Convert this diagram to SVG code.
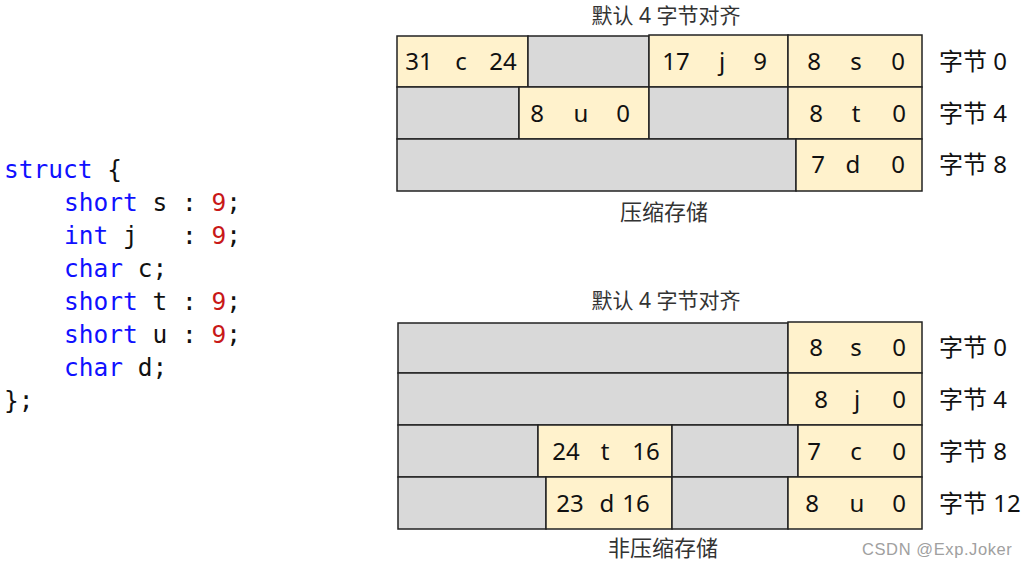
<svg xmlns="http://www.w3.org/2000/svg" width="1026" height="566" viewBox="0 0 1026 566">
<style>
.bg{fill:#ffffff}
.y{fill:#fff2cc;stroke:#222;stroke-width:1.5}
.g{fill:#d9d9d9;stroke:#222;stroke-width:1.5}
.v{font-family:"Noto Sans","Open Sans","DejaVu Sans",sans-serif;font-size:24px;fill:#111;text-anchor:middle}
.lbl{font-family:"Noto Sans","Noto Sans CJK SC",sans-serif;font-size:24px;fill:#111}
.ttl{font-family:"Noto Sans","Noto Sans CJK SC",sans-serif;font-size:21px;fill:#333;text-anchor:middle}
.code{font-family:"DejaVu Sans Mono","Liberation Mono",monospace;font-size:24.5px;fill:#111}
.kw{fill:#1010ff}
.num{fill:#c81818}
.wm{font-family:"Liberation Sans","DejaVu Sans",sans-serif;font-size:16.5px;fill:#a0a0a0;letter-spacing:0.6px}
</style>
<rect class="bg" x="0" y="0" width="1026" height="566"/>

<g id="code">
<text class="code" x="4" y="178" xml:space="preserve"><tspan class="kw">struct</tspan> {</text>
<text class="code" x="64" y="211" xml:space="preserve"><tspan class="kw">short</tspan> s : <tspan class="num">9</tspan>;</text>
<text class="code" x="64" y="244" xml:space="preserve"><tspan class="kw">int</tspan> j   : <tspan class="num">9</tspan>;</text>
<text class="code" x="64" y="277" xml:space="preserve"><tspan class="kw">char</tspan> c;</text>
<text class="code" x="64" y="310" xml:space="preserve"><tspan class="kw">short</tspan> t : <tspan class="num">9</tspan>;</text>
<text class="code" x="64" y="343" xml:space="preserve"><tspan class="kw">short</tspan> u : <tspan class="num">9</tspan>;</text>
<text class="code" x="64" y="376" xml:space="preserve"><tspan class="kw">char</tspan> d;</text>
<text class="code" x="4" y="409" xml:space="preserve">};</text>
</g>

<g id="packed">
<text class="ttl" x="666" y="23">默认 4 字节对齐</text>
<g id="p-row0">
<rect class="y" x="397" y="36" width="131" height="51"/>
<rect class="g" x="528" y="36" width="121" height="51"/>
<rect class="y" x="649" y="35" width="139" height="52"/>
<rect class="y" x="788" y="35" width="134" height="52"/>
<text class="v" x="419" y="70">31</text><text class="v" x="461" y="70">c</text><text class="v" x="503" y="70">24</text>
<text class="v" x="676" y="70">17</text><text class="v" x="722" y="70">j</text><text class="v" x="760" y="70">9</text>
<text class="v" x="814" y="70">8</text><text class="v" x="856" y="70">s</text><text class="v" x="898" y="70">0</text>
<text class="lbl" x="939" y="70">字节 0</text>
</g>
<g id="p-row1">
<rect class="g" x="397" y="87" width="122" height="52"/>
<rect class="y" x="519" y="87" width="130" height="52"/>
<rect class="g" x="649" y="87" width="139" height="52"/>
<rect class="y" x="788" y="87" width="134" height="52"/>
<text class="v" x="537" y="122">8</text><text class="v" x="581" y="122">u</text><text class="v" x="623" y="122">0</text>
<text class="v" x="816" y="122">8</text><text class="v" x="856" y="122">t</text><text class="v" x="899" y="122">0</text>
<text class="lbl" x="939" y="122">字节 4</text>
</g>
<g id="p-row2">
<rect class="g" x="397" y="139" width="399" height="52"/>
<rect class="y" x="796" y="139" width="126" height="52"/>
<text class="v" x="818" y="173">7</text><text class="v" x="853" y="173">d</text><text class="v" x="898" y="173">0</text>
<text class="lbl" x="939" y="173">字节 8</text>
</g>
<text class="ttl" x="664" y="220" style="font-size:22px">压缩存储</text>
</g>

<g id="unpacked">
<text class="ttl" x="666" y="308">默认 4 字节对齐</text>
<g id="u-row0">
<rect class="g" x="398" y="323" width="390" height="50"/>
<rect class="y" x="788" y="322" width="134" height="51"/>
<text class="v" x="816" y="356">8</text><text class="v" x="856" y="356">s</text><text class="v" x="899" y="356">0</text>
<text class="lbl" x="939" y="356">字节 0</text>
</g>
<g id="u-row1">
<rect class="g" x="398" y="373" width="390" height="52"/>
<rect class="y" x="788" y="373" width="134" height="52"/>
<text class="v" x="821" y="408">8</text><text class="v" x="857" y="408">j</text><text class="v" x="899" y="408">0</text>
<text class="lbl" x="939" y="408">字节 4</text>
</g>
<g id="u-row2">
<rect class="g" x="398" y="425" width="140" height="52"/>
<rect class="y" x="538" y="425" width="134" height="52"/>
<rect class="g" x="672" y="425" width="126" height="52"/>
<rect class="y" x="798" y="425" width="124" height="52"/>
<text class="v" x="566" y="460">24</text><text class="v" x="605" y="460">t</text><text class="v" x="646" y="460">16</text>
<text class="v" x="814" y="460">7</text><text class="v" x="856" y="460">c</text><text class="v" x="899" y="460">0</text>
<text class="lbl" x="939" y="460">字节 8</text>
</g>
<g id="u-row3">
<rect class="g" x="398" y="477" width="148" height="52"/>
<rect class="y" x="546" y="477" width="126" height="52"/>
<rect class="g" x="672" y="477" width="116" height="52"/>
<rect class="y" x="788" y="477" width="134" height="52"/>
<text class="v" x="570" y="512">23</text><text class="v" x="607" y="512">d</text><text class="v" x="636" y="512">16</text>
<text class="v" x="812" y="512">8</text><text class="v" x="857" y="512">u</text><text class="v" x="899" y="512">0</text>
<text class="lbl" x="939" y="512">字节 12</text>
</g>
<text class="ttl" x="663" y="556" style="font-size:22px">非压缩存储</text>
</g>

<g id="connectors"></g>

<text class="wm" x="862" y="555">CSDN @Exp.Joker</text>
</svg>
